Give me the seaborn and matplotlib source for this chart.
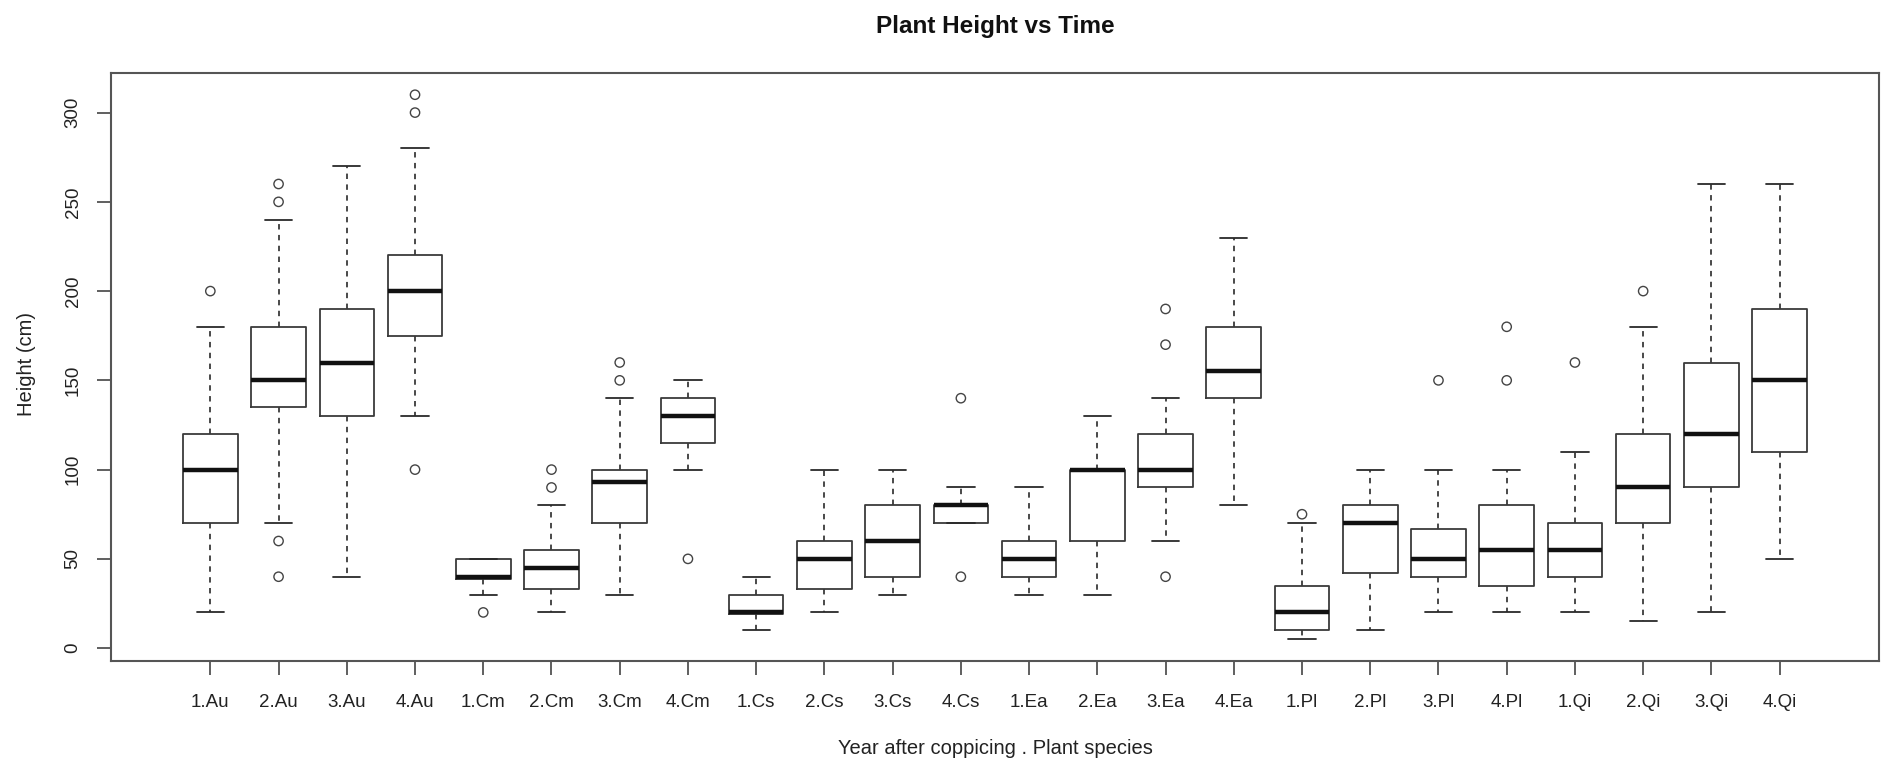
import matplotlib
matplotlib.use("Agg")
import matplotlib.pyplot as plt
import seaborn as sns
import pandas as pd

# valeurs (hauteur en cm)
labels = ["1.Au", "2.Au", "3.Au", "4.Au", "1.Cm", "2.Cm", "3.Cm", "4.Cm",
          "1.Cs", "2.Cs", "3.Cs", "4.Cs", "1.Ea", "2.Ea", "3.Ea", "4.Ea",
          "1.Pl", "2.Pl", "3.Pl", "4.Pl", "1.Qi", "2.Qi", "3.Qi", "4.Qi"]
whis_low = [20, 70, 40, 130, 30, 20, 30, 100, 10, 20, 30, 70,
            30, 30, 60, 80, 5, 10, 20, 20, 20, 15, 20, 50]
q1 = [70, 135, 130, 175, 39, 33, 70, 115, 19, 33, 40, 70,
      40, 60, 90, 140, 10, 42, 40, 35, 40, 70, 90, 110]
median = [100, 150, 160, 200, 40, 45, 93, 130, 20, 50, 60, 80,
          50, 100, 100, 155, 20, 70, 50, 55, 55, 90, 120, 150]
q3 = [120, 180, 190, 220, 50, 55, 100, 140, 30, 60, 80, 80,
      60, 100, 120, 180, 35, 80, 67, 80, 70, 120, 160, 190]
whis_high = [180, 240, 270, 280, 50, 80, 140, 150, 40, 100, 100, 90,
             90, 130, 140, 230, 70, 100, 100, 100, 110, 180, 260, 260]
outliers = [[200], [260, 250, 60, 40], [], [310, 300, 100], [20], [100, 90],
            [160, 150], [50], [], [], [], [140, 40],
            [], [], [190, 170, 40], [], [75], [], [150], [180, 150],
            [160], [200], [], []]

sns.set_style("white")
plt.rcParams['font.family'] = ['Liberation Sans', 'DejaVu Sans']

fig = plt.figure(figsize=(18.83, 7.6), dpi=100)
ax = fig.add_axes([0.0588, 0.1303, 0.9392, 0.7737])

stats = []
for i, lab in enumerate(labels):
    stats.append({"label": lab, "whislo": whis_low[i], "q1": q1[i], "med": median[i],
                  "q3": q3[i], "whishi": whis_high[i], "fliers": []})

pos = list(range(len(labels)))
ax.bxp(stats, positions=pos, widths=0.8, capwidths=0.4, showfliers=False,
       boxprops=dict(color="#3a3a3a", linewidth=1.3),
       whiskerprops=dict(color="#3a3a3a", linewidth=1.3, linestyle=(0, (3, 3))),
       capprops=dict(color="#2a2a2a", linewidth=1.3),
       medianprops=dict(color="#111111", linewidth=3.2))

# points aberrants avec seaborn
rows = []
for lab, vals in zip(labels, outliers):
    for v in vals:
        rows.append({"pos": labels.index(lab), "height": v})
df_out = pd.DataFrame(rows)
sns.scatterplot(data=df_out, x="pos", y="height", ax=ax, marker="o", s=45,
                facecolors="none", edgecolor="#444444", linewidth=1.0, zorder=3)

ax.set_xlim(-1.46, 24.46)
ax.set_ylim(-7.2, 322.2)
ax.set_xticks(pos)
ax.set_xticklabels(labels, fontsize=13.5, color="#222222")
ax.set_yticks([0, 50, 100, 150, 200, 250, 300])
ax.set_yticklabels(["0", "50", "100", "150", "200", "250", "300"], rotation=90,
                   va="center", fontsize=13.5, color="#222222")
ax.tick_params(axis="both", direction="out", length=10, width=1.2, color="#444444",
               bottom=True, left=True)
ax.tick_params(axis="x", pad=14)
ax.tick_params(axis="y", pad=11)
ax.set_xlabel("")
ax.set_ylabel("")
for sp in ax.spines.values():
    sp.set_color("#555555")
    sp.set_linewidth(1.5)

fig.text(0.5285, 1 - 27 / 760, "Plant Height vs Time", ha="center", va="center",
         fontsize=17.5, fontweight="bold", color="#111111")
fig.text(0.5285, 1 - 748 / 760, "Year after coppicing . Plant species", ha="center",
         va="center", fontsize=14.5, color="#222222")
fig.text(27 / 1883, 1 - 364 / 760, "Height (cm)", ha="center", va="center",
         rotation=90, fontsize=14.5, color="#222222")

fig.savefig("out.png", dpi=100, facecolor="white")
